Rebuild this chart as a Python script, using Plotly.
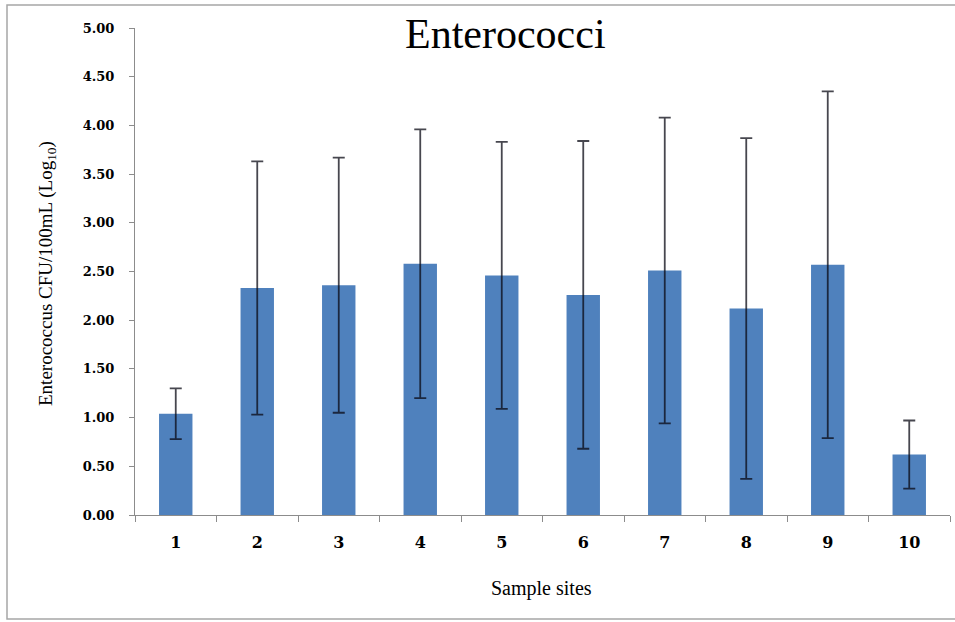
import plotly.graph_objects as go

# Enterococcus counts per sample site (log10 CFU/100 mL), mean and error
sites = ["1", "2", "3", "4", "5", "6", "7", "8", "9", "10"]
means = [1.04, 2.33, 2.36, 2.58, 2.46, 2.26, 2.51, 2.12, 2.57, 0.62]
errors = [0.26, 1.30, 1.31, 1.38, 1.37, 1.58, 1.57, 1.75, 1.78, 0.35]
y_ticks = [0, 0.5, 1.0, 1.5, 2.0, 2.5, 3.0, 3.5, 4.0, 4.5, 5.0]

W, H = 955, 622
L, R, T, B = 135, 5, 28, 107
pw, ph = W - L - R, H - T - B

SERIF = "Liberation Serif, Times New Roman, serif"


def px(x):
    return (x - L) / pw


def py(y):
    return (H - B - y) / ph


fig = go.Figure(
    go.Bar(
        x=sites,
        y=means,
        marker=dict(color="#4F81BD", line=dict(width=0)),
        width=0.41,
        error_y=dict(
            type="data",
            array=errors,
            visible=True,
            color="rgba(10,10,20,0.75)",
            thickness=1.8,
            width=6,
        ),
    )
)

axis_grey = "#8c8c8c"
fig.update_layout(
    width=W,
    height=H,
    margin=dict(l=L, r=R, t=T, b=B),
    paper_bgcolor="white",
    plot_bgcolor="white",
    showlegend=False,
    xaxis=dict(
        type="category",
        showline=True,
        linecolor=axis_grey,
        linewidth=1,
        ticks="outside",
        tickson="boundaries",
        ticklen=6,
        tickcolor=axis_grey,
        showgrid=False,
        tickfont=dict(family="DejaVu Serif", size=16, color="black", weight="bold"),
        ticklabelstandoff=13,
    ),
    yaxis=dict(
        range=[0, 5],
        tickvals=y_ticks,
        tickformat=".2f",
        showline=True,
        linecolor=axis_grey,
        linewidth=1,
        ticks="outside",
        ticklen=5,
        tickcolor=axis_grey,
        showgrid=False,
        zeroline=False,
        tickfont=dict(family="DejaVu Serif", size=13, color="black", weight="bold"),
        ticklabelstandoff=12,
    ),
    annotations=[
        dict(
            text="Enterococci",
            x=px(505), y=py(34), xref="paper", yref="paper",
            xanchor="center", yanchor="middle", showarrow=False,
            font=dict(family=SERIF, size=42, color="black"),
        ),
        dict(
            text="Enterococcus CFU/100mL (Log<sub>10</sub>)",
            x=px(47), y=py(274), xref="paper", yref="paper",
            xanchor="center", yanchor="middle", showarrow=False, textangle=-90,
            font=dict(family=SERIF, size=19, color="black"),
        ),
        dict(
            text="Sample sites",
            x=px(541), y=py(588), xref="paper", yref="paper",
            xanchor="center", yanchor="middle", showarrow=False,
            font=dict(family=SERIF, size=20, color="black"),
        ),
    ],
    shapes=[
        dict(
            type="rect", xref="paper", yref="paper",
            x0=px(7), x1=px(970), y0=py(619), y1=py(5),
            line=dict(color="#a6a6a6", width=1.5), fillcolor="rgba(0,0,0,0)",
            layer="below",
        )
    ],
)

fig.write_html("out.html")
